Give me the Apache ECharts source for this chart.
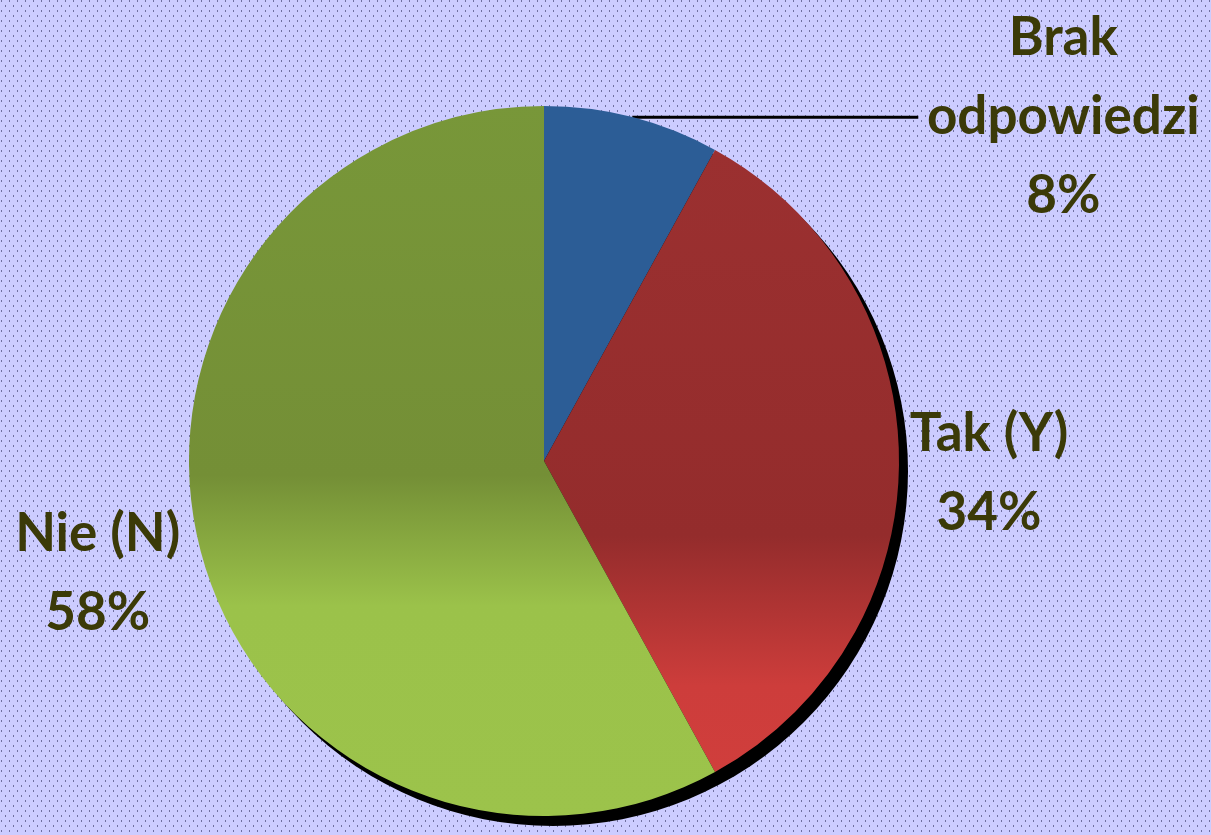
<!DOCTYPE html>
<html>
<head>
<meta charset="utf-8">
<script src="https://cdn.jsdelivr.net/npm/echarts@6/dist/echarts.min.js"></script>
<style>
    html, body {
        margin: 0;
        padding: 0;
    }
    body {
        background-color: #ccccff;
        background-image: url("data:image/svg+xml;utf8,<svg xmlns='http://www.w3.org/2000/svg' width='8' height='10'><rect x='1' y='0' width='1' height='2' fill='%237070a0'/><rect x='5' y='5' width='1' height='2' fill='%237070a0'/></svg>");
    }
    #chart {
        width: 1211px;
        height: 835px;
    }
</style>
</head>
<body>
<div id="chart"></div>
<script>
// udział odpowiedzi (w %)
var categories = ['Brak\nodpowiedzi', 'Tak (Y)', 'Nie (N)'];
var values = [8, 34, 58];

var textColor = '#3b3a08';

var sliceColors = [
    '#2c5d96',
    {
        type: 'linear', x: 0, y: 149, x2: 0, y2: 773, global: true,
        colorStops: [
            { offset: 0, color: '#9b3030' },
            { offset: 0.62, color: '#942c2c' },
            { offset: 0.86, color: '#cd3d3b' },
            { offset: 1, color: '#d03e3c' }
        ]
    },
    {
        type: 'linear', x: 0, y: 99, x2: 0, y2: 823, global: true,
        colorStops: [
            { offset: 0, color: '#789739' },
            { offset: 0.52, color: '#748f36' },
            { offset: 0.7, color: '#9bc24a' },
            { offset: 1, color: '#9cc34b' }
        ]
    }
];

// ustawienia etykiet dla kazdego wycinka
var labelLines = [
    { show: true, length: 0, length2: 286, lineStyle: { color: '#000', width: 3 } },
    { show: false, length: 0, length2: 0 },
    { show: false, length: 0, length2: 0 }
];
var labelWidths = [280, 170, 175];
var labelShift = [[0, -2], [0, 12], [-10, 24]];

var pieData = [];
for (var i = 0; i < categories.length; i++) {
    pieData.push({
        name: categories[i],
        value: values[i],
        itemStyle: { color: sliceColors[i] },
        labelLine: labelLines[i],
        label: {
            rich: {
                t: {
                    width: labelWidths[i],
                    align: 'center',
                    fontSize: 53,
                    fontWeight: 'bold',
                    fontFamily: 'Lato',
                    color: textColor,
                    lineHeight: 79
                }
            }
        }
    });
}

var total = 0;
for (var j = 0; j < values.length; j++) {
    total += values[j];
}

var chart = echarts.init(document.getElementById('chart'), null, { renderer: 'canvas' });

var option = {
    backgroundColor: 'transparent',
    animation: false,
    series: [{
        // cien pod wykresem
        name: 'cien',
        type: 'pie',
        silent: true,
        z: 1,
        center: [553, 471],
        radius: 355,
        label: { show: false },
        labelLine: { show: false },
        itemStyle: { color: '#000' },
        data: [{ name: '', value: total }]
    }, {
        name: 'odpowiedzi',
        type: 'pie',
        z: 2,
        center: [544, 461],
        radius: 355,
        startAngle: 90,
        clockwise: true,
        avoidLabelOverlap: false,
        itemStyle: { borderWidth: 0 },
        label: {
            show: true,
            position: 'outside',
            bleedMargin: 0,
            distanceToLabelLine: 5,
            formatter: function (params) {
                var lines = params.name.split('\n');
                lines.push(Math.round(params.percent) + '%');
                return lines.map(function (s) { return '{t|' + s + '}'; }).join('\n');
            }
        },
        labelLayout: function (params) {
            var s = labelShift[params.dataIndex];
            if (params.dataIndex === 0) {
                return {};
            }
            return { dx: s[0], dy: s[1] };
        },
        data: pieData
    }]
};

chart.setOption(option);
</script>
</body>
</html>
